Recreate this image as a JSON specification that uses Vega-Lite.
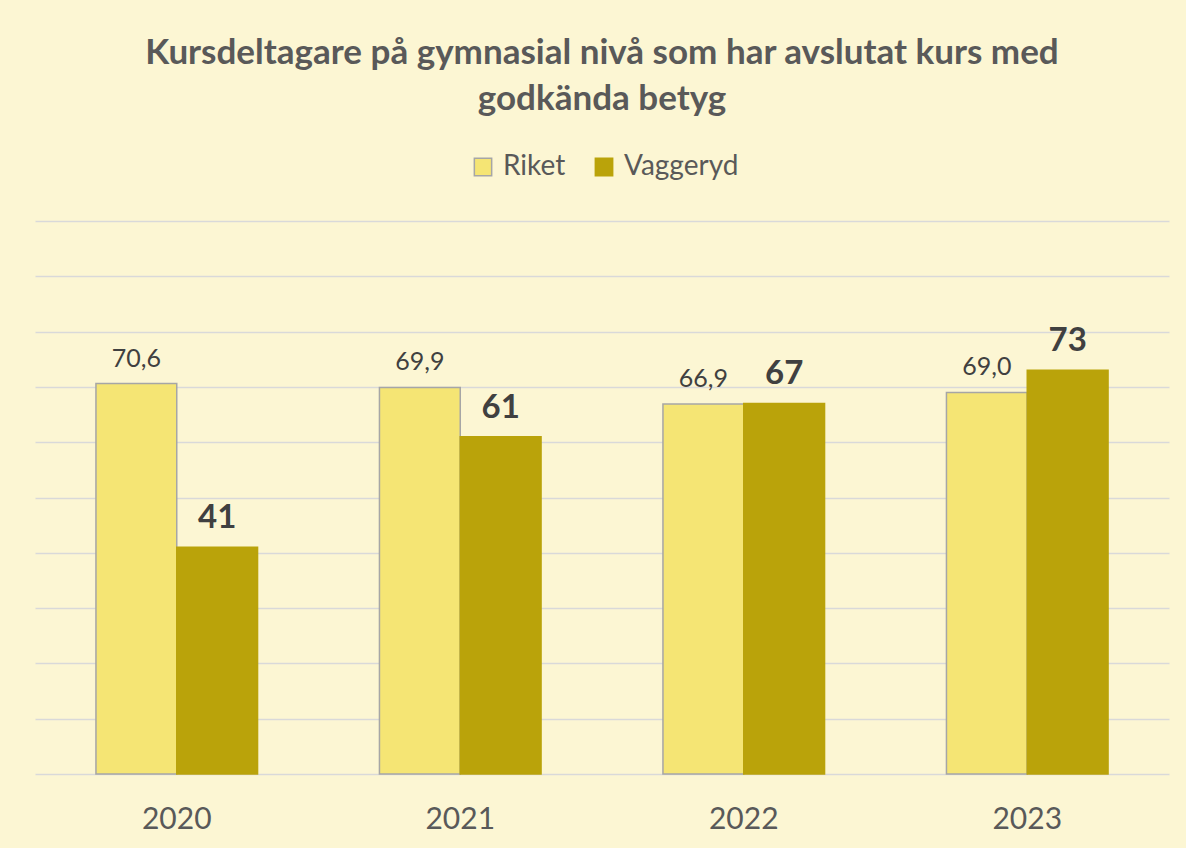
{
  "$schema": "https://vega.github.io/schema/vega-lite/v6.json",
  "width": 1134,
  "height": 553,
  "autosize": "none",
  "padding": {"left": 35, "top": 221, "right": 17, "bottom": 74},
  "background": "#FCF6D3",
  "config": {
    "view": {"stroke": null},
    "locale": {"number": {"decimal": ",", "thousands": " ", "grouping": [3], "currency": ["", " kr"]}},
    "font": "Lato"
  },
  "title": {
    "text": ["Kursdeltagare på gymnasial nivå som har avslutat kurs med", "godkända betyg"],
    "anchor": "middle",
    "font": "Lato",
    "fontSize": 35,
    "fontWeight": "bold",
    "color": "#595959",
    "lineHeight": 46,
    "offset": 36
  },
  "data": {
    "values": [
      {"year": "2020", "serie": "Riket", "value": 70.6},
      {"year": "2020", "serie": "Vaggeryd", "value": 41},
      {"year": "2021", "serie": "Riket", "value": 69.9},
      {"year": "2021", "serie": "Vaggeryd", "value": 61},
      {"year": "2022", "serie": "Riket", "value": 66.9},
      {"year": "2022", "serie": "Vaggeryd", "value": 67},
      {"year": "2023", "serie": "Riket", "value": 69.0},
      {"year": "2023", "serie": "Vaggeryd", "value": 73}
    ]
  },
  "encoding": {
    "x": {
      "field": "year", "type": "nominal",
      "scale": {"paddingInner": 0.43, "paddingOuter": 0.215},
      "axis": {"title": null, "labelAngle": 0, "labelFont": "Lato", "labelFontSize": 30, "labelColor": "#595959", "labelPadding": 30, "domain": false, "ticks": false}
    },
    "xOffset": {"field": "serie", "type": "nominal", "scale": {"paddingInner": 0, "paddingOuter": 0}},
    "y": {
      "field": "value", "type": "quantitative",
      "scale": {"domain": [0, 100], "nice": false},
      "axis": {"title": null, "labels": false, "ticks": false, "domain": false, "values": [0,10,20,30,40,50,60,70,80,90,100], "gridColor": "#D9D9D9", "gridWidth": 1.5}
    }
  },
  "layer": [
    {
      "mark": {"type": "bar", "strokeWidth": 1.5},
      "encoding": {
        "fill": {
          "field": "serie", "type": "nominal",
          "scale": {"domain": ["Riket", "Vaggeryd"], "range": ["#F5E574", "#BAA30A"]},
          "legend": {
            "title": null, "orient": "none", "direction": "horizontal",
            "legendX": 434, "legendY": -68,
            "symbolType": "square", "symbolSize": 300, "symbolStrokeWidth": 1.5,
            "labelFont": "Lato", "labelFontSize": 28, "labelColor": "#595959",
            "columnPadding": 24, "labelOffset": 6, "symbolOpacity": 1
          }
        },
        "stroke": {
          "field": "serie", "type": "nominal",
          "scale": {"domain": ["Riket", "Vaggeryd"], "range": ["#A6A6A6", "#BAA30A"]},
          "legend": null
        }
      }
    },
    {
      "transform": [{"filter": "datum.serie === 'Riket'"}],
      "mark": {"type": "text", "baseline": "alphabetic", "dy": -17, "font": "Lato", "fontSize": 25, "color": "#404040"},
      "encoding": {
        "text": {"field": "value", "type": "quantitative", "format": ".1f"}
      }
    },
    {
      "transform": [{"filter": "datum.serie === 'Vaggeryd'"}],
      "mark": {"type": "text", "baseline": "alphabetic", "dy": -19, "font": "Lato", "fontSize": 33, "fontWeight": "bold", "color": "#404040"},
      "encoding": {
        "text": {"field": "value", "type": "quantitative", "format": ".0f"}
      }
    }
  ]
}
